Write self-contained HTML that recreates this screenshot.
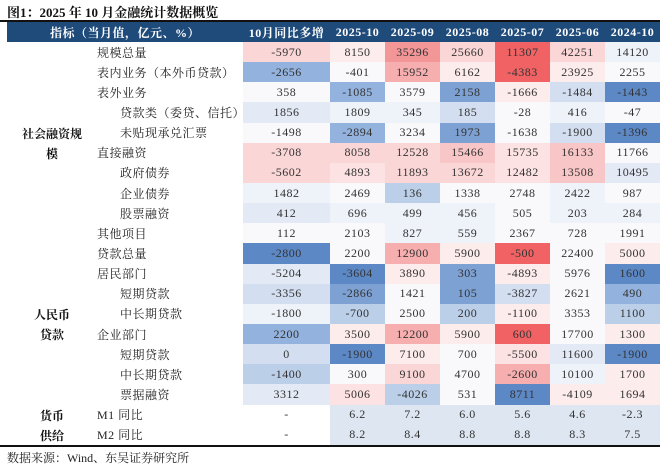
<!DOCTYPE html>
<html><head><meta charset="utf-8"><style>
body{margin:0;width:660px;height:465px;background:#fff;position:relative;overflow:hidden;font-family:"Liberation Serif","Noto Serif CJK SC",serif;}
.t{position:absolute;left:7px;top:2px;font-size:13px;font-weight:bold;color:#111;}
.line{position:absolute;left:0;width:660px;background:#111;}
table{position:absolute;left:7px;top:22px;border-collapse:collapse;table-layout:fixed;width:653px;}
td{height:20.15px;padding:0;font-size:12px;color:#333;text-align:center;white-space:nowrap;overflow:hidden;letter-spacing:0.5px;}
tr.h td{background:#1f4b7b;color:#fff;font-weight:bold;height:20px;font-size:12px;}
td.i1{text-align:left;padding-left:0px;color:#222;}
td.i2{text-align:left;padding-left:23px;color:#222;}
.g{position:absolute;font-size:12px;font-weight:bold;color:#111;text-align:center;width:90px;left:7px;}
.W{background:#f9f9fc}.R0{background:#fdecec}.R05{background:#fce2e2}.R1{background:#fbd6d7}.R15{background:#f9c6c7}.R2{background:#f6aeaf}.R25{background:#f39697}.R3{background:#f06263}
.B0{background:#eef2f9}.B05{background:#e3eaf5}.B1{background:#d3dff0}.B15{background:#bccfe9}.B2{background:#93b2dd}.B25{background:#7ea1d3}.B3{background:#5d88c6}.M{background:#dee6f2}
</style></head><body>
<div class="t">图1：2025 年 10 月金融统计数据概览</div>
<div class="line" style="top:20px;height:2px"></div>
<table>
<colgroup><col style="width:90px"><col style="width:146px"><col style="width:87px"><col style="width:55px"><col style="width:55px"><col style="width:55px"><col style="width:55px"><col style="width:55px"><col style="width:55px"></colgroup>
<tr class="h"><td colspan="2">指标（当月值，亿元、%）</td><td>10月同比多增</td><td>2025-10</td><td>2025-09</td><td>2025-08</td><td>2025-07</td><td>2025-06</td><td>2024-10</td></tr>
<tr><td></td><td class="i1">规模总量</td><td class="R1">-5970</td><td class="R0">8150</td><td class="R25">35296</td><td class="R1">25660</td><td class="R3">11307</td><td class="R1">42251</td><td class="B0">14120</td></tr>
<tr><td></td><td class="i1">表内业务（本外币贷款）</td><td class="B2">-2656</td><td class="W">-401</td><td class="R2">15952</td><td class="R0">6162</td><td class="R3">-4383</td><td class="R0">23925</td><td class="W">2255</td></tr>
<tr><td></td><td class="i1">表外业务</td><td class="W">358</td><td class="B2">-1085</td><td class="W">3579</td><td class="B25">2158</td><td class="R0">-1666</td><td class="B1">-1484</td><td class="B3">-1443</td></tr>
<tr><td></td><td class="i2">贷款类（委贷、信托）</td><td class="B05">1856</td><td class="B0">1809</td><td class="B0">345</td><td class="B1">185</td><td class="W">-28</td><td class="B0">416</td><td class="W">-47</td></tr>
<tr><td></td><td class="i2">未贴现承兑汇票</td><td class="W">-1498</td><td class="B2">-2894</td><td class="W">3234</td><td class="B25">1973</td><td class="W">-1638</td><td class="B1">-1900</td><td class="B3">-1396</td></tr>
<tr><td></td><td class="i1">直接融资</td><td class="R1">-3708</td><td class="R1">8058</td><td class="R1">12528</td><td class="R15">15466</td><td class="R05">15735</td><td class="R15">16133</td><td class="W">11766</td></tr>
<tr><td></td><td class="i2">政府债券</td><td class="R1">-5602</td><td class="R05">4893</td><td class="R1">11893</td><td class="R1">13672</td><td class="R05">12482</td><td class="R15">13508</td><td class="B05">10495</td></tr>
<tr><td></td><td class="i2">企业债券</td><td class="B0">1482</td><td class="W">2469</td><td class="B15">136</td><td class="W">1338</td><td class="W">2748</td><td class="B0">2422</td><td class="W">987</td></tr>
<tr><td></td><td class="i2">股票融资</td><td class="B05">412</td><td class="B0">696</td><td class="B0">499</td><td class="B0">456</td><td class="W">505</td><td class="B0">203</td><td class="B0">284</td></tr>
<tr><td></td><td class="i1">其他项目</td><td class="W">112</td><td class="W">2103</td><td class="B0">827</td><td class="B0">559</td><td class="W">2367</td><td class="W">728</td><td class="W">1991</td></tr>
<tr><td></td><td class="i1">贷款总量</td><td class="B3">-2800</td><td class="W">2200</td><td class="R2">12900</td><td class="R0">5900</td><td class="R3">-500</td><td class="W">22400</td><td class="R0">5000</td></tr>
<tr><td></td><td class="i1">居民部门</td><td class="B05">-5204</td><td class="B3">-3604</td><td class="R0">3890</td><td class="B25">303</td><td class="R0">-4893</td><td class="W">5976</td><td class="B3">1600</td></tr>
<tr><td></td><td class="i2">短期贷款</td><td class="B1">-3356</td><td class="B25">-2866</td><td class="W">1421</td><td class="B25">105</td><td class="B1">-3827</td><td class="W">2621</td><td class="B2">490</td></tr>
<tr><td></td><td class="i2">中长期贷款</td><td class="B0">-1800</td><td class="B15">-700</td><td class="W">2500</td><td class="B15">200</td><td class="R0">-1100</td><td class="W">3353</td><td class="B15">1100</td></tr>
<tr><td></td><td class="i1">企业部门</td><td class="B2">2200</td><td class="R0">3500</td><td class="R2">12200</td><td class="R0">5900</td><td class="R3">600</td><td class="W">17700</td><td class="R0">1300</td></tr>
<tr><td></td><td class="i2">短期贷款</td><td class="B1">0</td><td class="B3">-1900</td><td class="R0">7100</td><td class="W">700</td><td class="R05">-5500</td><td class="B05">11600</td><td class="B3">-1900</td></tr>
<tr><td></td><td class="i2">中长期贷款</td><td class="B15">-1400</td><td class="W">300</td><td class="R1">9100</td><td class="W">4700</td><td class="R2">-2600</td><td class="B0">10100</td><td class="R0">1700</td></tr>
<tr><td></td><td class="i2">票据融资</td><td class="B05">3312</td><td class="R05">5006</td><td class="B15">-4026</td><td class="W">531</td><td class="B3">8711</td><td class="R0">-4109</td><td class="R0">1694</td></tr>
<tr><td></td><td class="i1">M1 同比</td><td>-</td><td class="M">6.2</td><td class="M">7.2</td><td class="M">6.0</td><td class="M">5.6</td><td class="M">4.6</td><td class="M">-2.3</td></tr>
<tr><td></td><td class="i1">M2 同比</td><td>-</td><td class="M">8.2</td><td class="M">8.4</td><td class="M">8.8</td><td class="M">8.8</td><td class="M">8.3</td><td class="M">7.5</td></tr>
</table>
<div class="g" style="top:125px">社会融资规</div>
<div class="g" style="top:145px">模</div>
<div class="g" style="top:306px">人民币</div>
<div class="g" style="top:326px">贷款</div>
<div class="g" style="top:407px">货币</div>
<div class="g" style="top:427px">供给</div>
<div class="line" style="top:445px;height:2px"></div>
<div style="position:absolute;left:7px;top:449px;font-size:12px;color:#222;">数据来源：Wind、东吴证券研究所</div>
</body></html>
